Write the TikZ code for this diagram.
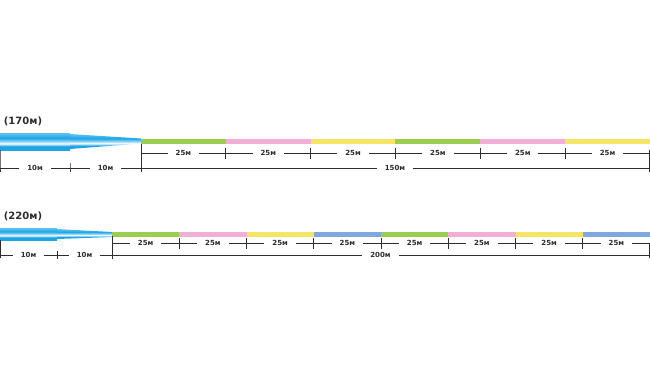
\documentclass[tikz,border=0pt]{standalone}
\usepackage{fontspec}
\setmainfont{DejaVu Sans}
\usepackage{tikz}
\usetikzlibrary{calc}

\definecolor{leaderblue}{RGB}{30,165,230}
\definecolor{leaderlight}{RGB}{95,195,242}
\definecolor{leaderpale}{RGB}{150,215,246}
\definecolor{lgreen}{RGB}{155,205,80}
\definecolor{lpink}{RGB}{242,175,214}
\definecolor{lyellow}{RGB}{246,228,100}
\definecolor{lblue}{RGB}{128,168,224}
\definecolor{dimgray}{RGB}{45,45,45}

\pgfdeclareverticalshading{leadershade}{100bp}{color(0bp)=(leaderblue); color(25bp)=(leaderblue);
  color(36bp)=(leaderblue); color(44bp)=(white); color(50bp)=(leaderpale);
  color(60bp)=(leaderblue); color(75bp)=(leaderlight); color(100bp)=(leaderlight)}

\tikzset{
  dimline/.style={draw=dimgray, line width=0.8pt},
  dimlabel/.style={fill=white, inner xsep=8pt, inner ysep=1pt, text=dimgray, font=\fontsize{7}{8}\selectfont\bfseries},
  segment/.style={line width=5pt},
  leader/.style={shading=leadershade},
  lengthlabel/.style={text=dimgray, font=\fontsize{10}{12}\selectfont\bfseries},
}

\begin{document}
\begin{tikzpicture}[x=1pt,y=-1pt]
\useasboundingbox (0,0) rectangle (650,380);

% 170m
\node[lengthlabel] (len170) at (23,121) {(170м)};
\shade[leader] (0,133) rectangle (70,150);
\shade[leader] (70,134) -- (141,138.5) -- (141,143.5) -- (70,149) -- cycle;
\foreach \c [count=\i from 0] in {lgreen,lpink,lyellow,lgreen,lpink,lyellow}
  \draw[segment, \c] ({141+84.83*\i},141) -- ({141+84.83*(\i+1)},141);

\coordinate (a0) at (0,168);
\coordinate (a1) at (70,168);
\coordinate (a2) at (141,168);
\coordinate (a3) at (649,168);
\draw[dimline] (0,150) -- (a0) -- (0,172);
\draw[dimline] (70,163) -- (a1) -- (70,172);
\draw[dimline] (141,144) -- (141,172);
\draw[dimline] (649,150) -- (649,172);
\draw[dimline] (a0) -- node[dimlabel] (d10a) {10м} (a1);
\draw[dimline] (a1) -- node[dimlabel] (d10b) {10м} (a2);
\draw[dimline] (a2) -- node[dimlabel] (d150) {150м} (a3);
\foreach \i in {0,...,5} {
  \coordinate (b\i) at ({141+84.83*\i},153);
  \coordinate (b\i e) at ({141+84.83*(\i+1)},153);
  \draw[dimline] ($(b\i e)+(0,-5.5)$) -- ($(b\i e)+(0,5.5)$);
  \draw[dimline] (b\i) -- node[dimlabel] {25м} (b\i e);
}

% 220m
\node[lengthlabel] (len220) at (23,216) {(220м)};
\shade[leader] (0,228) rectangle (57,240);
\shade[leader] (57,229) -- (112,232) -- (112,237) -- (57,239) -- cycle;
\foreach \c [count=\i from 0] in {lgreen,lpink,lyellow,lblue,lgreen,lpink,lyellow,lblue}
  \draw[segment, \c] ({112+67.25*\i},234.5) -- ({112+67.25*(\i+1)},234.5);

\coordinate (p0) at (0,255);
\coordinate (p1) at (57,255);
\coordinate (p2) at (112,255);
\coordinate (p3) at (649,255);
\draw[dimline] (0,240) -- (0,258);
\draw[dimline] (57,251) -- (57,259);
\draw[dimline] (112,236) -- (112,259);
\draw[dimline] (649,243) -- (649,258);
\draw[dimline] (p0) -- node[dimlabel] (e10a) {10м} (p1);
\draw[dimline] (p1) -- node[dimlabel] (e10b) {10м} (p2);
\draw[dimline] (p2) -- node[dimlabel] (e200) {200м} (p3);
\foreach \i in {0,...,7} {
  \coordinate (q\i) at ({112+67.25*\i},243);
  \coordinate (q\i e) at ({112+67.25*(\i+1)},243);
  \draw[dimline] ($(q\i e)+(0,-5.5)$) -- ($(q\i e)+(0,5.5)$);
  \draw[dimline] (q\i) -- node[dimlabel] {25м} (q\i e);
}
\end{tikzpicture}
\end{document}
